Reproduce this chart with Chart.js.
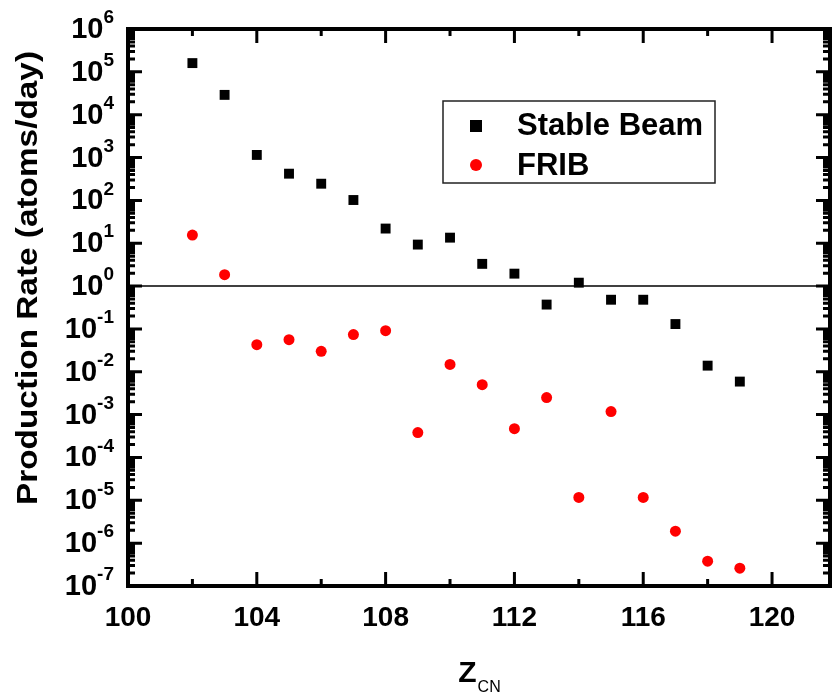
<!DOCTYPE html>
<html lang="en">
<head>
    <meta charset="UTF-8">
    <title>Production Rate vs Z</title>
    <style>
        body {
            margin: 0;
            background: #fff;
        }
        #chart-container {
            width: 838px;
            height: 698px;
        }
    </style>
    <script src="https://cdn.jsdelivr.net/npm/chart.js"></script>
</head>
<body>
    <div id="chart-container">
        <canvas id="rateChart" width="838" height="698"></canvas>
    </div>

    <script>
        // Z of compound nucleus
        const zValues = [102, 103, 104, 105, 106, 107, 108, 109, 110, 111, 112, 113, 114, 115, 116, 117, 118, 119];
        // atoms/day
        const stableBeam = [1.6e5, 2.9e4, 1150, 420, 245, 102, 22, 9.3, 13.5, 3.3, 1.95, 0.37, 1.2, 0.48, 0.48, 0.13, 0.0139, 0.0059];
        const frib = [15.5, 1.85, 0.043, 0.056, 0.030, 0.074, 0.091, 3.8e-4, 0.0148, 0.005, 4.7e-4, 0.0025, 1.17e-5, 0.00118, 1.17e-5, 1.9e-6, 3.8e-7, 2.6e-7];
        const refLine = [1, 1];
        const xRange = [100, 121.8];
        const yExponents = [-7, -6, -5, -4, -3, -2, -1, 0, 1, 2, 3, 4, 5, 6];
        const xTickLabels = [100, 104, 108, 112, 116, 120];
        const seriesNames = ['Stable Beam', 'FRIB'];

        const FONT = 'Arial, "Liberation Sans", sans-serif';

        // 画框、刻度、标签和图例
        const decorPlugin = {
            id: 'decor',
            afterDatasetsDraw(chart) {
                const ctx = chart.ctx;
                const area = chart.chartArea;
                const xs = chart.scales.x;
                const ys = chart.scales.y;
                ctx.save();
                ctx.strokeStyle = '#000';
                ctx.fillStyle = '#000';

                // ticks
                ctx.lineWidth = 3;
                ctx.beginPath();
                yExponents.forEach(e => {
                    for (let m = 1; m <= 9; m++) {
                        const v = m * Math.pow(10, e);
                        if (v > 1e6 * 1.0001) break;
                        const py = ys.getPixelForValue(v);
                        const len = m === 1 ? 14 : 7;
                        ctx.moveTo(area.left, py); ctx.lineTo(area.left + len, py);
                        ctx.moveTo(area.right, py); ctx.lineTo(area.right - len, py);
                    }
                });
                for (let v = 102; v <= 120; v += 2) {
                    const px = xs.getPixelForValue(v);
                    const len = v % 4 === 0 ? 14 : 7;
                    ctx.moveTo(px, area.bottom); ctx.lineTo(px, area.bottom - len);
                    ctx.moveTo(px, area.top); ctx.lineTo(px, area.top + len);
                }
                ctx.stroke();

                // frame
                ctx.lineWidth = 4;
                ctx.strokeRect(area.left, area.top, area.right - area.left, area.bottom - area.top);

                // y labels 10^n
                ctx.textBaseline = 'middle';
                ctx.textAlign = 'right';
                yExponents.forEach(e => {
                    const py = ys.getPixelForValue(Math.pow(10, e));
                    ctx.font = 'bold 19px ' + FONT;
                    const expText = String(e);
                    const w = ctx.measureText(expText).width;
                    ctx.fillText(expText, 114, py - 11);
                    ctx.font = 'bold 29px ' + FONT;
                    ctx.fillText('10', 114 - w, py + 1);
                });

                // x labels
                ctx.textAlign = 'center';
                ctx.font = 'bold 28px ' + FONT;
                xTickLabels.forEach(v => {
                    ctx.fillText(String(v), xs.getPixelForValue(v), 618);
                });

                // x title Z_CN
                ctx.textAlign = 'left';
                ctx.font = 'bold 30px ' + FONT;
                const zw = ctx.measureText('Z').width;
                ctx.font = '16px ' + FONT;
                const cw = ctx.measureText('CN').width;
                const startX = (area.left + area.right) / 2 - (zw + cw) / 2;
                ctx.font = 'bold 30px ' + FONT;
                ctx.fillText('Z', startX, 674);
                ctx.font = '16px ' + FONT;
                ctx.fillText('CN', startX + zw + 1, 688);

                // y title (stretched along its length like the original)
                ctx.save();
                ctx.translate(29, 278);
                ctx.rotate(-Math.PI / 2);
                ctx.scale(1.15, 1);
                ctx.textAlign = 'center';
                ctx.font = 'bold 29px ' + FONT;
                ctx.fillText('Production Rate (atoms/day)', 0, 0);
                ctx.restore();

                // legend
                ctx.lineWidth = 1.5;
                ctx.strokeStyle = '#222';
                ctx.strokeRect(443, 101, 272, 82);
                ctx.fillStyle = '#000';
                ctx.fillRect(470, 120, 12, 12);
                ctx.fillStyle = '#ff0000';
                ctx.beginPath();
                ctx.arc(476, 165, 6, 0, Math.PI * 2);
                ctx.fill();
                ctx.fillStyle = '#000';
                ctx.textAlign = 'left';
                ctx.font = 'bold 31px ' + FONT;
                ctx.fillText(seriesNames[0], 517, 126);
                ctx.fillText(seriesNames[1], 517, 166);

                ctx.restore();
            }
        };

        const ctx = document.getElementById('rateChart').getContext('2d');
        new Chart(ctx, {
            type: 'scatter',
            data: {
                datasets: [
                    {
                        type: 'line',
                        label: 'ref',
                        data: xRange.map((x, i) => ({ x: x, y: refLine[i] })),
                        borderColor: '#000',
                        borderWidth: 1.5,
                        pointRadius: 0,
                        fill: false
                    },
                    {
                        label: seriesNames[0],
                        data: zValues.map((z, i) => ({ x: z, y: stableBeam[i] })),
                        pointStyle: 'rect',
                        pointRadius: 7,
                        backgroundColor: '#000',
                        borderWidth: 0
                    },
                    {
                        label: seriesNames[1],
                        data: zValues.map((z, i) => ({ x: z, y: frib[i] })),
                        pointStyle: 'circle',
                        pointRadius: 5.5,
                        backgroundColor: '#ff0000',
                        borderWidth: 0
                    }
                ]
            },
            options: {
                responsive: false,
                animation: false,
                layout: {
                    padding: { top: 29, right: 8, left: 0, bottom: 0 }
                },
                plugins: {
                    legend: { display: false },
                    tooltip: { enabled: false }
                },
                scales: {
                    x: {
                        type: 'linear',
                        min: xRange[0],
                        max: xRange[1],
                        grid: { display: false },
                        border: { display: false },
                        ticks: { display: false },
                        afterFit: s => { s.height = 112; }
                    },
                    y: {
                        type: 'logarithmic',
                        min: 1e-7,
                        max: 1e6,
                        grid: { display: false },
                        border: { display: false },
                        ticks: { display: false },
                        afterFit: s => { s.width = 128; }
                    }
                }
            },
            plugins: [decorPlugin]
        });
    </script>
</body>
</html>
